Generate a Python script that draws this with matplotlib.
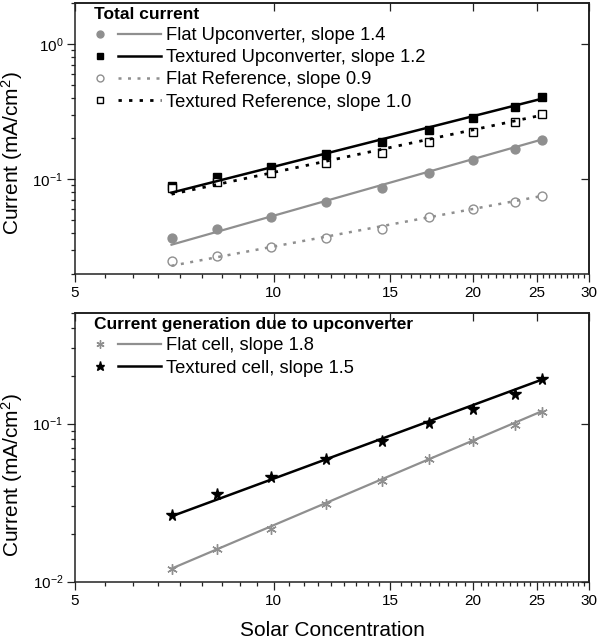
import matplotlib
matplotlib.use('Agg')
import matplotlib.pyplot as plt
import numpy as np
from matplotlib.lines import Line2D
from matplotlib.legend_handler import HandlerBase
from matplotlib.ticker import FixedLocator, NullFormatter, FixedFormatter, LogLocator, FuncFormatter

plt.rcParams['font.family'] = ['Liberation Sans', 'DejaVu Sans']
plt.rcParams['mathtext.fontset'] = 'custom'
plt.rcParams['mathtext.rm'] = 'Liberation Sans'
plt.rcParams['mathtext.it'] = 'Liberation Sans:italic'
plt.rcParams['mathtext.bf'] = 'Liberation Sans:bold'
plt.rcParams['mathtext.default'] = 'regular'

# ---------------- data ----------------
concentration = [7.0, 8.2, 9.9, 12.0, 14.6, 17.2, 20.0, 23.2, 25.5]

flat_upconverter = [0.0368, 0.0431, 0.0531, 0.0677, 0.0859, 0.1107, 0.1387, 0.167, 0.1935]
textured_upconverter = [0.0885, 0.1045, 0.1238, 0.1535, 0.189, 0.233, 0.284, 0.342, 0.405]
flat_reference = [0.0248, 0.0273, 0.0316, 0.0368, 0.0431, 0.0526, 0.0602, 0.0685, 0.0754]
textured_reference = [0.0867, 0.0960, 0.112, 0.131, 0.155, 0.189, 0.224, 0.265, 0.301]

flat_cell = [0.01197, 0.01607, 0.02168, 0.0311, 0.0436, 0.0597, 0.0778, 0.0981, 0.119]
textured_cell = [0.02627, 0.0356, 0.0457, 0.0597, 0.0778, 0.1015, 0.1232, 0.153, 0.190]

# fitted power-law lines (values at the ends of the fit range)
fit_x = [7.0, 25.5]
fit_flat_upconverter = [0.0329, 0.197]
fit_textured_upconverter = [0.0797, 0.394]
fit_flat_reference = [0.0230, 0.0754]
fit_textured_reference = [0.0776, 0.298]
fit_flat_cell = [0.0121, 0.120]
fit_textured_cell = [0.0259, 0.190]

top_labels = ['Flat Upconverter, slope 1.4', 'Textured Upconverter, slope 1.2',
              'Flat Reference, slope 0.9', 'Textured Reference, slope 1.0']
bottom_labels = ['Flat cell, slope 1.8', 'Textured cell, slope 1.5']
top_title = 'Total current'
bottom_title = 'Current generation due to upconverter'

x_major = [5, 10, 15, 20, 25, 30]

GRAY = '#8f8f8f'
DOT = (0, (1.2, 2.6))
LEG_FS = 13.2

# ---------------- figure ----------------
fig = plt.figure(figsize=(6.0, 6.42), dpi=100)
ax1 = fig.add_axes([75/600, 1-274/642, 514/600, 271/642])
ax2 = fig.add_axes([75/600, 1-581.7/642, 514/600, 268.7/642])


class MarkerThenLine(HandlerBase):
    """Legend entry: a marker on the left, then a short line segment."""
    def create_artists(self, legend, orig_handle, xdescent, ydescent,
                       width, height, fontsize, trans):
        mk, ln = orig_handle
        y = height / 2 - ydescent
        x0 = -xdescent
        m = Line2D([x0 + 0.09 * width], [y])
        m.update_from(mk)
        m.set_linestyle('none')
        m.set_markersize(mk.get_markersize() * 0.78)
        m.set_transform(trans)
        l = Line2D([x0 + 0.36 * width, x0 + width], [y, y])
        l.update_from(ln)
        l.set_marker('None')
        l.set_transform(trans)
        return [m, l]


def style_axes(ax, ylim, yticks, ylabel_y):
    ax.set_xscale('log')
    ax.set_yscale('log')
    ax.set_xlim(5, 30)
    ax.set_ylim(*ylim)
    minors = []
    for a, b in zip(x_major[:-1], x_major[1:]):
        minors.extend(list(np.linspace(a, b, 10)[1:-1]))
    ax.xaxis.set_major_locator(FixedLocator(x_major))
    ax.xaxis.set_minor_locator(FixedLocator(minors))
    ax.xaxis.set_major_formatter(FixedFormatter([str(v) for v in x_major]))
    ax.xaxis.set_minor_formatter(NullFormatter())
    ax.yaxis.set_major_locator(FixedLocator(yticks))
    ax.yaxis.set_minor_locator(LogLocator(base=10, subs=np.arange(2, 10)))
    ax.yaxis.set_major_formatter(FuncFormatter(lambda v, p: r'10$^{%d}$' % int(round(np.log10(v)))))
    ax.yaxis.set_minor_formatter(NullFormatter())
    ax.tick_params(which='both', direction='out', top=False, right=False,
                   width=0.9, color='#222222', labelsize=11)
    ax.tick_params(which='major', length=6, pad=2.5)
    ax.tick_params(which='minor', length=3)
    for s in ax.spines.values():
        s.set_linewidth(1.1)
        s.set_color('#222222')
    sx = ax.secondary_xaxis('top')
    sx.xaxis.set_major_locator(FixedLocator(x_major))
    sx.xaxis.set_minor_locator(FixedLocator([]))
    sx.tick_params(which='major', direction='in', length=6, width=0.9, labeltop=False, color='#222222')
    sx.spines['top'].set_linewidth(1.1)
    sy = ax.secondary_yaxis('right')
    sy.yaxis.set_major_locator(FixedLocator(yticks))
    sy.yaxis.set_minor_locator(FixedLocator([]))
    sy.tick_params(which='major', direction='in', length=6, width=0.9, labelright=False, color='#222222')
    sy.spines['right'].set_linewidth(1.1)
    ax.set_ylabel('Current (mA/cm$^2$)', fontsize=15)
    ax.yaxis.set_label_coords(-0.098, ylabel_y)


style_axes(ax1, (0.02, 2.0), [0.1, 1.0], 0.445)
style_axes(ax2, (0.01, 0.5), [0.01, 0.1], 0.398)

# ---------------- top panel ----------------
m_fu, = ax1.plot(concentration, flat_upconverter, 'o', ms=6.4, mfc=GRAY, mec=GRAY, zorder=2)
m_tu, = ax1.plot(concentration, textured_upconverter, 's', ms=6.2, mfc='black', mec='black', zorder=2)
m_fr, = ax1.plot(concentration, flat_reference, 'o', ms=6.4, mfc='white', mec=GRAY, mew=1.0, zorder=2.5)
m_tr, = ax1.plot(concentration, textured_reference, 's', ms=6.2, mfc='white', mec='black', mew=1.0, zorder=2.5)

l_fu, = ax1.plot(fit_x, fit_flat_upconverter, '-', color=GRAY, lw=1.6, zorder=3)
l_tu, = ax1.plot(fit_x, fit_textured_upconverter, '-', color='black', lw=1.8, zorder=3)
l_fr, = ax1.plot(fit_x, fit_flat_reference, linestyle=DOT, color=GRAY, lw=1.8, zorder=3)
l_tr, = ax1.plot(fit_x, fit_textured_reference, linestyle=DOT, color='black', lw=2.0, zorder=3)

leg_kw = dict(handler_map={tuple: MarkerThenLine()}, loc='upper left',
              frameon=False, borderpad=0, borderaxespad=0, handlelength=3.66,
              handletextpad=0.27, labelspacing=0.28, fontsize=LEG_FS,
              title_fontproperties={'weight': 'bold', 'size': 12.5},
              alignment='left')

leg1 = ax1.legend([(m_fu, l_fu), (m_tu, l_tu), (m_fr, l_fr), (m_tr, l_tr)], top_labels,
                  bbox_to_anchor=(0.037, 0.985), bbox_transform=ax1.transAxes,
                  title=top_title, **leg_kw)

# ---------------- bottom panel ----------------
m_fc, = ax2.plot(concentration, flat_cell, marker=(6, 2, 0), linestyle='none', ms=7.5, mec=GRAY, mew=1.0, zorder=2)
m_tc, = ax2.plot(concentration, textured_cell, '*', ms=8.5, mfc='black', mec='black', zorder=2)
l_fc, = ax2.plot(fit_x, fit_flat_cell, '-', color=GRAY, lw=1.6, zorder=3)
l_tc, = ax2.plot(fit_x, fit_textured_cell, '-', color='black', lw=1.8, zorder=3)

leg2 = ax2.legend([(m_fc, l_fc), (m_tc, l_tc)], bottom_labels,
                  bbox_to_anchor=(0.037, 0.984), bbox_transform=ax2.transAxes,
                  title=bottom_title, **leg_kw)

ax2.set_xlabel('Solar Concentration', fontsize=15)
ax2.xaxis.set_label_coords(0.5, -0.145)

fig.savefig('out.png', dpi=100)
